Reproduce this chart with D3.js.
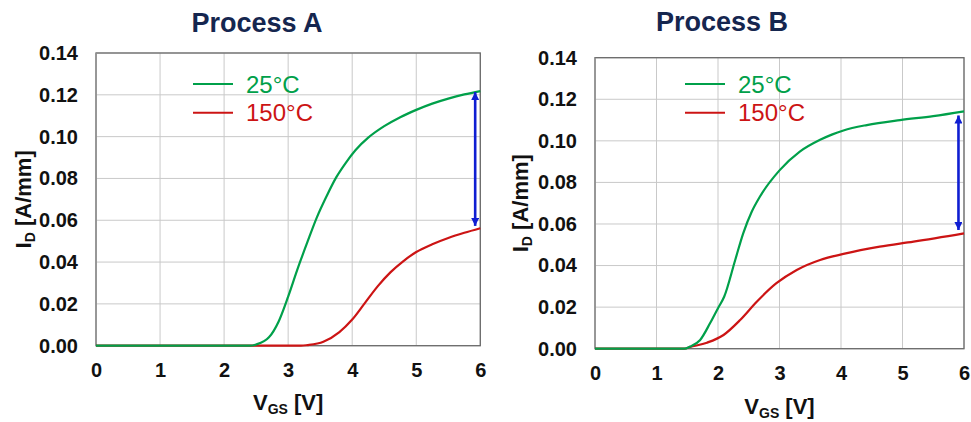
<!DOCTYPE html>
<html>
<head>
<meta charset="utf-8">
<script src="https://cdn.jsdelivr.net/npm/d3@7"></script>
<style>
  html, body { margin: 0; padding: 0; background: #fff; }
  svg { display: block; font-family: "Liberation Sans", Arial, sans-serif; }
</style>
</head>
<body>
<svg id="chart" width="971" height="422"></svg>
<script>
// Transfer curves I_D vs V_GS, [V_GS (V), I_D (A/mm)]
const procA_25C = [[0,0],[1,0],[2,0],[2.4,0],[2.5,0.0006],[2.7,0.004],[2.85,0.0115],[3.0,0.0235],[3.15,0.037],[3.3,0.0495],[3.45,0.0615],[3.6,0.0715],[3.75,0.0805],[3.9,0.0875],[4.05,0.0935],[4.25,0.0995],[4.5,0.105],[4.75,0.1093],[5.0,0.1128],[5.25,0.1158],[5.5,0.1182],[5.75,0.1202],[6.0,0.1218]];
const procA_150C = [[0,0],[1,0],[2,0],[3.2,0],[3.3,0.0003],[3.55,0.0019],[3.8,0.0065],[4.0,0.0125],[4.2,0.0205],[4.4,0.0285],[4.6,0.0352],[4.8,0.0405],[5.0,0.0448],[5.25,0.0485],[5.5,0.0515],[5.75,0.054],[6.0,0.0562]];
const procB_25C = [[0,0],[1,0],[1.45,0],[1.545,0.001],[1.71,0.0042],[1.87,0.0122],[2.0,0.0195],[2.1,0.025],[2.28,0.0427],[2.41,0.0555],[2.55,0.066],[2.68,0.0731],[3.0,0.0858],[3.33,0.0948],[3.66,0.1005],[3.85,0.1030],[4.04,0.1050],[4.42,0.1076],[4.96,0.1100],[5.5,0.1119],[6.0,0.1142]];
const procB_150C = [[0,0],[1,0],[1.45,0],[1.545,0.0008],[1.82,0.0029],[2.09,0.0066],[2.36,0.0138],[2.63,0.0226],[2.95,0.0315],[3.28,0.0379],[3.66,0.0427],[4.04,0.0456],[4.63,0.0491],[5.18,0.0515],[6.0,0.0555]];

// Current drop markers: [V_GS, I_D top, I_D bottom]
const procA_drop = [5.92, 0.1213, 0.0573];
const procB_drop = [5.91, 0.1122, 0.0571];

const xTicks = [0, 1, 2, 3, 4, 5, 6];
const yTicks = [0, 0.02, 0.04, 0.06, 0.08, 0.10, 0.12, 0.14];
const seriesNames = ["25°C", "150°C"];
const titles = ["Process A", "Process B"];

const colors = { c25: "#00a04a", c150: "#cc1414", arrow: "#0f1ed2", title: "#15264f" };

const svg = d3.select("#chart");

// arrowhead marker
svg.append("defs").append("marker")
  .attr("id", "head")
  .attr("viewBox", "0 0 10 10")
  .attr("refX", 10).attr("refY", 5)
  .attr("markerUnits", "userSpaceOnUse")
  .attr("markerWidth", 11).attr("markerHeight", 8)
  .attr("orient", "auto-start-reverse")
  .append("path").attr("d", "M0,0 L10,5 L0,10 Z").attr("fill", colors.arrow);

const panels = [
  { title: titles[0], s25: procA_25C, s150: procA_150C, drop: procA_drop,
    box: { l: 96, r: 480.3, t: 53, b: 345.7 }, titleX: 257, titleY: 31.5,
    legX: 193, legY: 84, yTitleX: 23, xTitleDy: 64 },
  { title: titles[1], s25: procB_25C, s150: procB_150C, drop: procB_drop,
    box: { l: 595, r: 964, t: 57.7, b: 348.7 }, titleX: 722, titleY: 30.5,
    legX: 685, legY: 84, yTitleX: 520, xTitleDy: 65 }
];

panels.forEach(p => {
  const g = svg.append("g");
  const x = d3.scaleLinear().domain([0, 6]).range([p.box.l, p.box.r]);
  const y = d3.scaleLinear().domain([0, 0.14]).range([p.box.b, p.box.t]);

  // grid
  g.append("g").selectAll("line.vx").data(xTicks).join("line")
    .attr("x1", d => x(d)).attr("x2", d => x(d))
    .attr("y1", p.box.t).attr("y2", p.box.b)
    .attr("stroke", "#c9c9c9").attr("stroke-width", 1);
  g.append("g").selectAll("line.hy").data(yTicks).join("line")
    .attr("x1", p.box.l).attr("x2", p.box.r)
    .attr("y1", d => y(d)).attr("y2", d => y(d))
    .attr("stroke", "#c9c9c9").attr("stroke-width", 1);

  // frame
  g.append("rect")
    .attr("x", p.box.l).attr("y", p.box.t)
    .attr("width", p.box.r - p.box.l).attr("height", p.box.b - p.box.t)
    .attr("fill", "none").attr("stroke", "#6a6a6a").attr("stroke-width", 1.3);
  g.append("line").attr("x1", p.box.l).attr("x2", p.box.l).attr("y1", p.box.t).attr("y2", p.box.b)
    .attr("stroke", "#9a9a9a").attr("stroke-width", 1.3);

  // axes
  const ax = g.append("g").attr("transform", `translate(0,${p.box.b})`)
    .call(d3.axisBottom(x).tickValues(xTicks).tickFormat(d3.format("d")).tickSize(0).tickPadding(17));
  const ay = g.append("g").attr("transform", `translate(${p.box.l},0)`)
    .call(d3.axisLeft(y).tickValues(yTicks).tickFormat(d3.format(".2f")).tickSize(0).tickPadding(18));
  [ax, ay].forEach(a => {
    a.select(".domain").remove();
    a.selectAll("text").attr("font-family", "Liberation Sans, Arial, sans-serif")
      .attr("font-size", 20).attr("font-weight", "bold").attr("fill", "#111");
  });

  // curves
  const line = d3.line().x(d => x(d[0])).y(d => y(d[1])).curve(d3.curveMonotoneX);
  g.append("path").datum(p.s150).attr("d", line)
    .attr("fill", "none").attr("stroke", colors.c150).attr("stroke-width", 2.2);
  g.append("path").datum(p.s25).attr("d", line)
    .attr("fill", "none").attr("stroke", colors.c25).attr("stroke-width", 2.2);

  // drop arrow
  g.append("line")
    .attr("x1", x(p.drop[0])).attr("x2", x(p.drop[0]))
    .attr("y1", y(p.drop[1])).attr("y2", y(p.drop[2]))
    .attr("stroke", colors.arrow).attr("stroke-width", 2.6)
    .attr("marker-start", "url(#head)").attr("marker-end", "url(#head)");

  // legend
  const leg = g.append("g");
  [[seriesNames[0], colors.c25, 0], [seriesNames[1], colors.c150, 28.7]].forEach(([name, c, off]) => {
    leg.append("line").attr("x1", p.legX).attr("x2", p.legX + 40)
      .attr("y1", p.legY + off).attr("y2", p.legY + off)
      .attr("stroke", c).attr("stroke-width", 2);
    leg.append("text").attr("x", p.legX + 53).attr("y", p.legY + off + 8.5)
      .attr("font-size", 24).attr("fill", c).text(name);
  });

  // title
  g.append("text").attr("x", p.titleX).attr("y", p.titleY)
    .attr("text-anchor", "middle").attr("font-size", 27).attr("font-weight", "bold")
    .attr("fill", colors.title).text(p.title);

  // x axis title
  const xt = g.append("text").attr("x", (p.box.l + p.box.r) / 2).attr("y", p.box.b + p.xTitleDy)
    .attr("text-anchor", "middle").attr("font-size", 22).attr("font-weight", "bold").attr("fill", "#111");
  xt.append("tspan").text("V");
  xt.append("tspan").attr("font-size", 14).attr("dy", 4).text("GS");
  xt.append("tspan").attr("dy", -4).text(" [V]");

  // y axis title
  const cy = (p.box.t + p.box.b) / 2;
  const yt = g.append("text")
    .attr("transform", `translate(${p.yTitleX + 8},${cy}) rotate(-90)`)
    .attr("text-anchor", "middle").attr("font-size", 22).attr("font-weight", "bold").attr("fill", "#111");
  yt.append("tspan").text("I");
  yt.append("tspan").attr("font-size", 14).attr("dy", 4).text("D");
  yt.append("tspan").attr("dy", -4).text(" [A/mm]");
});
</script>
</body>
</html>
